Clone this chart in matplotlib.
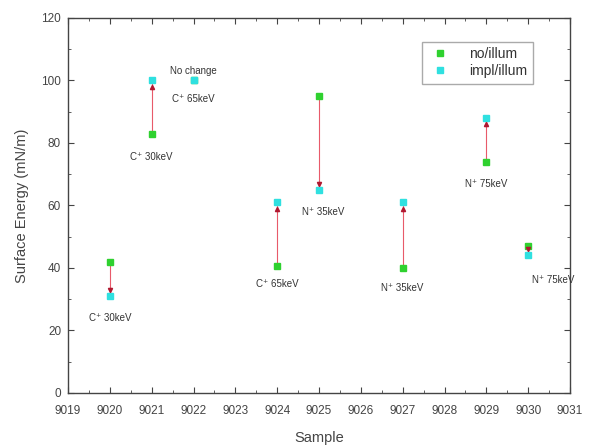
import matplotlib
matplotlib.use("Agg")
import matplotlib.pyplot as plt
from matplotlib.ticker import MultipleLocator

plt.rcParams['font.family'] = ['Liberation Sans', 'DejaVu Sans']

samples = [9020, 9021, 9022, 9024, 9025, 9027, 9029, 9030]
no_illum = [42, 83, 100, 40.5, 95, 40, 74, 47]
impl_illum = [31, 100, 100, 61, 65, 61, 88, 44]
arrow_tip = [33, 98, None, 59, 67, 59, 86, 46]

label_text = ["C\u207a 30keV", "C\u207a 30keV", "No change", "C\u207a 65keV",
              "C\u207a 65keV", "N\u207a 35keV", "N\u207a 35keV", "N\u207a 75keV", "N\u207a 75keV"]
label_x = [9020, 9021, 9022, 9022, 9024, 9025.1, 9027, 9029, 9030.6]
label_y = [24, 75.5, 103, 94, 35, 58, 33.5, 67, 36]

green = '#2fd12f'
cyan = '#2fe0e0'
red = '#e85a6a'

fig = plt.figure(figsize=(5.94, 4.48), dpi=100)
ax = fig.add_axes([0.1145, 0.1228, 0.8451, 0.8372])

for s, g, c, t in zip(samples, no_illum, impl_illum, arrow_tip):
    if g != c:
        ax.plot([s, s], [g, c], color=red, lw=0.8, zorder=1)
    if t is not None:
        ax.plot([s], [t], marker='v' if c < g else '^', color='#b01830', ms=3, zorder=5)

ax.plot(samples, no_illum, 's', color=green, ms=4.5, ls='none', label='no/illum', zorder=3)
ax.plot(samples, impl_illum, 's', color=cyan, ms=4.5, ls='none', label='impl/illum', zorder=4)

for txt, x, y in zip(label_text, label_x, label_y):
    ax.text(x, y, txt, fontsize=7, ha='center', va='center', color='#333333')

ax.set_xlim(9019, 9031)
ax.set_ylim(0, 120)
ax.xaxis.set_major_locator(MultipleLocator(1))
ax.xaxis.set_minor_locator(MultipleLocator(0.5))
ax.yaxis.set_major_locator(MultipleLocator(20))
ax.yaxis.set_minor_locator(MultipleLocator(10))
ax.tick_params(which='both', direction='in', top=True, right=True, labelsize=8.5, colors='#444444')
ax.tick_params(which='major', length=4)
ax.tick_params(which='minor', length=2)
ax.tick_params(axis='x', which='major', pad=9)
ax.tick_params(axis='y', which='major', pad=5)
for sp in ax.spines.values():
    sp.set_color('#444444')
    sp.set_linewidth(1.0)

ax.set_xlabel('Sample', fontsize=10.5, color='#444444', labelpad=10)
ax.set_ylabel('Surface Energy (mN/m)', fontsize=10.5, color='#444444', labelpad=9)

leg = ax.legend(loc='upper right', bbox_to_anchor=(0.94, 0.955), fontsize=10,
                handletextpad=1.2, borderpad=0.4, fancybox=False, framealpha=1,
                edgecolor='#aaaaaa', handlelength=1.8, labelspacing=0.2)
for t in leg.get_texts():
    t.set_color('#333333')

fig.savefig('out.png', dpi=100)
